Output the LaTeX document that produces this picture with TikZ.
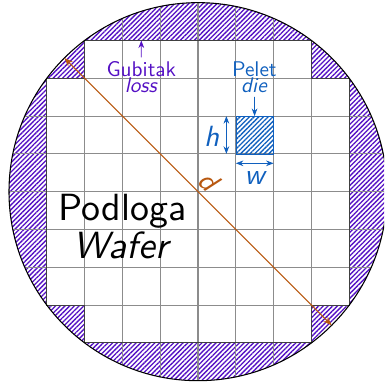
\documentclass[tikz,border=0pt]{standalone}
\usepackage{xcolor}
\usetikzlibrary{patterns.meta, arrows.meta, positioning, calc}
\definecolor{losspurple}{RGB}{84, 16, 196}
\definecolor{dieblue}{RGB}{16, 96, 190}
\definecolor{diagbrown}{RGB}{184, 88, 16}

\begin{document}
\begin{tikzpicture}[>=Stealth, font=\sffamily,
    gridline/.style={black!45, thick},
    edgeline/.style={black!75, thick},
    hatchfill/.style={pattern={Lines[angle=45, distance=2.5pt, line width=1pt]}, pattern color=#1},
    losstext/.style={text=losspurple, align=center, inner sep=0pt, outer sep=2.1pt, scale=1.6, font=\sffamily\fontsize{10}{7.3}\selectfont},
    dietext/.style={text=dieblue, align=center, inner sep=0pt, outer sep=2.1pt, scale=1.6, font=\sffamily\fontsize{10}{7.3}\selectfont},
    sizetext/.style={text=dieblue, inner sep=0pt, scale=2.2, font=\sffamily\itshape},
    arrowloss/.style={->, color=losspurple, semithick},
    arrowdie/.style={<->, color=dieblue, semithick}]

    \useasboundingbox (-5.238,-5.114) rectangle (4.92,5.07);

    % Lost area
    \begin{scope}
        \clip (-5.238,-5.114) rectangle (4.92,5.07);
        \fill[hatchfill=losspurple, even odd rule]
            (0,0) circle (5)
            (-3,4) -- (3,4) -- (3,3) -- (4,3) -- (4,-3) -- (3,-3) -- (3,-4)
            -- (-3,-4) -- (-3,-3) -- (-4,-3) -- (-4,3) -- (-3,3) -- cycle;
        % Grid
        \begin{scope}
            \clip (0,0) circle (5);
            \foreach \i in {-4,...,4} {
                \draw[gridline] (\i,-5) -- (\i,5);
                \draw[gridline] (-5,\i) -- (5,\i);
            }
        \end{scope}
        \draw[edgeline] (-3,4) -- (3,4) -- (3,3) -- (4,3) -- (4,-3) -- (3,-3) -- (3,-4)
            -- (-3,-4) -- (-3,-3) -- (-4,-3) -- (-4,3) -- (-3,3) -- cycle;
        \draw[black, thick] (0,0) circle (5);
    \end{scope}

    % One die
    \node[draw=dieblue, hatchfill=dieblue, minimum size=1cm, inner sep=0pt, outer sep=0pt] (die) at (1.5,1.5) {};
    \node[dietext] (die_name) at (1.49,3.03) {Pelet\\ \textit{die}};
    \draw[arrowloss, color=dieblue] (die_name) -- (die);

    % Die size
    \coordinate[left=0.25cm of die.north west] (h_top);
    \coordinate[left=0.25cm of die.south west] (h_bot);
    \coordinate[below=0.25cm of die.south west] (w_left);
    \coordinate[below=0.25cm of die.south east] (w_right);
    \draw[arrowdie] (h_top) -- (h_bot);
    \draw[arrowdie] (w_left) -- (w_right);
    \node[sizetext] (h_lbl) at (0.36,1.47) {h};
    \node[sizetext] (w_lbl) at (1.5,0.36) {w};

    % Loss label
    \node[losstext] (loss_name) at (-1.5,3.03) {Gubitak\\ \textit{loss}};
    \coordinate (loss_top) at (-1.5,4);
    \draw[arrowloss] (loss_name) -- (loss_top);

    % Wafer label
    \node[align=center, inner sep=0pt, scale=2.85, font=\sffamily\fontsize{10}{8.1}\selectfont] (wafer) at (-2,-0.93) {Podloga\\ \textit{Wafer}};

    % Diameter
    \coordinate (d_start) at (135:5);
    \coordinate (d_end) at (-45:5);
    \draw[<->, color=diagbrown, thick] (d_start) -- node[above, sloped, text=diagbrown, scale=2.2, font=\sffamily\itshape, inner sep=1.4pt] (d_lbl) {d} (d_end);
\end{tikzpicture}
\end{document}
